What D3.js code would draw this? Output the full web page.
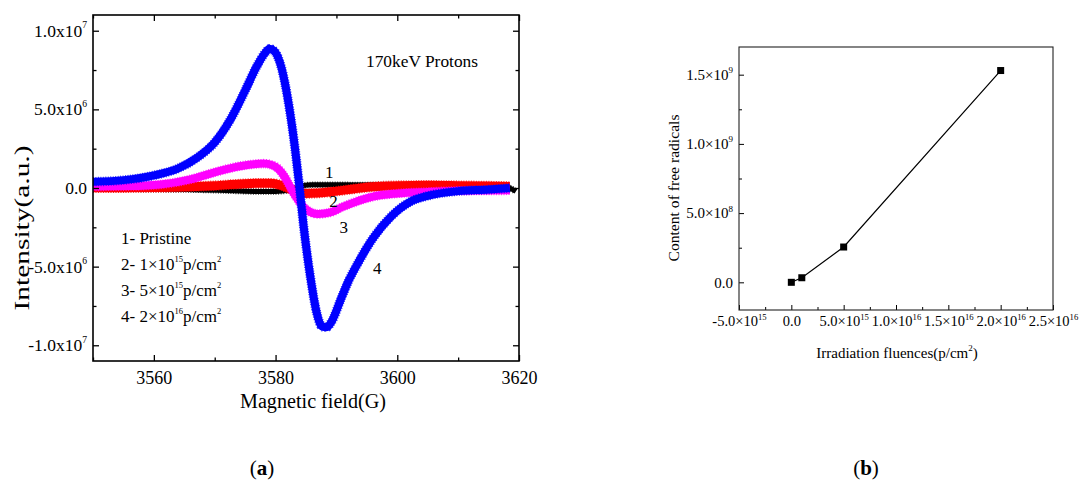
<!DOCTYPE html>
<html><head><meta charset="utf-8">
<script src="https://cdn.jsdelivr.net/npm/d3@7"></script>
<style>
html,body{margin:0;padding:0;background:#fff;}
svg{display:block;}
svg text, svg tspan{font-family:"Liberation Serif","Times New Roman",serif;fill:#000;}
</style></head>
<body><svg id="c" width="1080" height="484" font-family="Liberation Serif"></svg>
<script>
// ---------- Data: panel (a) EPR spectra (intensity in units of 1e6) ----------
const blackField = [3550, 3560, 3568, 3573, 3577, 3580, 3582, 3583.5, 3584.5, 3586, 3590, 3600, 3610, 3617, 3618.5, 3619.5];
const blackIntensity = [-0.05, -0.08, -0.12, -0.18, -0.22, -0.22, -0.15, 0.00, 0.15, 0.20, 0.20, 0.18, 0.15, 0.12, 0.0, -0.22];

const redField = [3550, 3560, 3566, 3570, 3574, 3577, 3579, 3580.5, 3582, 3583.5, 3585, 3587, 3590, 3593, 3596, 3600, 3605, 3610, 3618.5];
const redIntensity = [0.02, 0.03, 0.08, 0.15, 0.25, 0.30, 0.30, 0.22, 0.00, -0.25, -0.35, -0.32, -0.20, -0.05, 0.08, 0.15, 0.17, 0.15, 0.10];

const magentaField = [3550, 3556, 3561, 3566, 3570, 3573, 3576, 3578, 3579.5, 3580.5, 3581.5, 3582.5, 3583.5, 3585, 3587, 3589, 3591, 3593, 3596, 3600, 3605, 3610, 3618.5];
const magentaIntensity = [0.10, 0.12, 0.22, 0.55, 1.00, 1.30, 1.50, 1.55, 1.45, 1.20, 0.70, 0.00, -0.65, -1.35, -1.65, -1.55, -1.20, -0.90, -0.55, -0.35, -0.25, -0.18, -0.15];

const blueField = [3550, 3555, 3560, 3564, 3567, 3570, 3572.5, 3575, 3577, 3578.3, 3579, 3579.8, 3581, 3582, 3583, 3583.8, 3584.6, 3585.7, 3586.8, 3587.6, 3588.4, 3589.2, 3590.7, 3592, 3593.5, 3596, 3599, 3602, 3605, 3610, 3615, 3618.5];
const blueIntensity = [0.40, 0.50, 0.80, 1.25, 1.90, 2.90, 4.30, 6.20, 7.80, 8.60, 8.85, 8.70, 7.60, 5.70, 3.10, 0.50, -2.40, -5.60, -8.00, -8.80, -8.85, -8.50, -7.10, -5.90, -4.80, -3.20, -1.80, -0.90, -0.50, -0.20, -0.10, 0.00];

const leftXTicks = [3560, 3580, 3600, 3620];
const leftXLabels = ["3560", "3580", "3600", "3620"];
const leftXMinor = [3550, 3570, 3590, 3610];
const leftYTicks = [-1e7, -5e6, 0, 5e6, 1e7];
const leftYLabels = ["-1.0x10^{7}", "-5.0x10^{6}", "0.0", "5.0x10^{6}", "1.0x10^{7}"];
const leftYMinor = [-7.5e6, -2.5e6, 2.5e6, 7.5e6];

const curveLabels = ["1", "2", "3", "4"];
const legendLines = ["1- Pristine", "2- 1×10^{15}p/cm^{2}", "3- 5×10^{15}p/cm^{2}", "4- 2×10^{16}p/cm^{2}"];

// ---------- Data: panel (b) ----------
const fluence = [0, 1e15, 5e15, 2e16];
const radicals = [0, 3.3e7, 2.55e8, 1.53e9];
const rightXTicks = [-5e15, 0, 5e15, 1e16, 1.5e16, 2e16, 2.5e16];
const rightXLabels = ["-5.0×10^{15}", "0.0", "5.0×10^{15}", "1.0×10^{16}", "1.5×10^{16}", "2.0×10^{16}", "2.5×10^{16}"];
const rightXMinor = [-2.5e15, 2.5e15, 7.5e15, 1.25e16, 1.75e16, 2.25e16];
const rightYTicks = [0, 5e8, 1e9, 1.5e9];
const rightYLabels = ["0.0", "5.0×10^{8}", "1.0×10^{9}", "1.5×10^{9}"];
const rightYMinor = [2.5e8, 7.5e8, 1.25e9];

const SERIF = "Liberation Serif";

// ---------- helpers ----------
function rich(sel, str, fs, supScale, supRaise) {
  supScale = supScale || 0.58;
  supRaise = supRaise || 0.45;
  const parts = str.split(/\^\{([^}]*)\}/);
  sel.text(null);
  let raised = 0;
  parts.forEach((p, i) => {
    if (i % 2 === 0) {
      if (p === "") return;
      const t = sel.append("tspan").text(p);
      if (raised) { t.attr("dy", raised); raised = 0; }
    } else {
      const r = fs * supRaise;
      sel.append("tspan").attr("font-size", fs * supScale).attr("dy", -r).text(p);
      raised = r;
    }
  });
}

const svg = d3.select("#c");

// ================= Panel (a) =================
const xL = d3.scaleLinear().domain([3550, 3620]).range([93, 519]);
const yL = d3.scaleLinear().domain([-1.1e7, 1.1e7]).range([361, 15]);
const gA = svg.append("g");

gA.append("clipPath").attr("id", "clipA").append("rect")
  .attr("x", 93).attr("y", 15).attr("width", 426).attr("height", 346);

const plotA = gA.append("g").attr("clip-path", "url(#clipA)");
const series = [
  {f: blackField, v: blackIntensity, c: "#000000", w: 5},
  {f: redField, v: redIntensity, c: "#ff0000", w: 9},
  {f: magentaField, v: magentaIntensity, c: "#ff00ff", w: 8},
  {f: blueField, v: blueIntensity, c: "#0000ff", w: 8}
];
series.forEach(s => {
  const pts = s.f.map((f, i) => [f, s.v[i] * 1e6]);
  const line = d3.line().x(d => xL(d[0])).y(d => yL(d[1])).curve(d3.curveMonotoneX);
  plotA.append("path").attr("d", line(pts)).attr("fill", "none")
    .attr("stroke", s.c).attr("stroke-width", s.w).attr("stroke-linejoin", "round");
  // jagged marker-like fringe
  plotA.append("path").attr("d", line(pts)).attr("fill", "none")
    .attr("stroke", s.c).attr("stroke-width", s.w + 1.5).attr("stroke-dasharray", "1,1.5").attr("opacity", 0.8);
});

// axes (a)
const axB = d3.axisBottom(xL).tickValues(leftXTicks).tickSize(-6).tickPadding(10).tickFormat((d, i) => leftXLabels[i]);
const gxb = gA.append("g").attr("transform", "translate(0,361)").call(axB);
gxb.attr("font-family", SERIF).attr("font-size", 18);
gA.append("g").attr("transform", "translate(0,361)").call(d3.axisBottom(xL).tickValues(leftXMinor).tickSize(-3.5).tickFormat(""));
gA.append("g").attr("transform", "translate(0,15)").call(d3.axisTop(xL).tickValues(leftXTicks).tickSize(-6).tickFormat(""));
gA.append("g").attr("transform", "translate(0,15)").call(d3.axisTop(xL).tickValues(leftXMinor).tickSize(-3.5).tickFormat(""));

const axLft = d3.axisLeft(yL).tickValues(leftYTicks).tickSize(-6).tickPadding(6).tickFormat((d, i) => leftYLabels[i]);
const gyl = gA.append("g").attr("transform", "translate(93,0)").call(axLft);
gyl.attr("font-family", SERIF).attr("font-size", 17.5);
gyl.selectAll("text").each(function(d, i) { rich(d3.select(this), leftYLabels[i], 17.5, 0.55, 0.5); });
gA.append("g").attr("transform", "translate(93,0)").call(d3.axisLeft(yL).tickValues(leftYMinor).tickSize(-3.5).tickFormat(""));
gA.append("g").attr("transform", "translate(519,0)").call(d3.axisRight(yL).tickValues(leftYTicks).tickSize(-6).tickFormat(""));
gA.append("g").attr("transform", "translate(519,0)").call(d3.axisRight(yL).tickValues(leftYMinor).tickSize(-3.5).tickFormat(""));
gA.selectAll(".domain").remove();
gA.selectAll(".tick line").attr("stroke", "#000").attr("stroke-width", 1.3);
gA.append("rect").attr("x", 93).attr("y", 15).attr("width", 426).attr("height", 346)
  .attr("fill", "none").attr("stroke", "#000").attr("stroke-width", 1.6);

// labels (a)
gA.append("text").attr("x", 313).attr("y", 408).attr("text-anchor", "middle").attr("font-size", 20)
  .attr("textLength", 146).attr("lengthAdjust", "spacingAndGlyphs").text("Magnetic field(G)");
gA.append("text").attr("transform", "translate(29,228) rotate(-90)").attr("text-anchor", "middle").attr("font-size", 22)
  .attr("textLength", 165).attr("lengthAdjust", "spacingAndGlyphs").text("Intensity(a.u.)");
gA.append("text").attr("x", 366).attr("y", 67).attr("font-size", 17)
  .attr("textLength", 112).attr("lengthAdjust", "spacingAndGlyphs").text("170keV Protons");

const curveLabelPos = [[3588.8, 1.0e6], [3589.5, -0.86e6], [3591.2, -2.46e6], [3596.7, -5.08e6]];
curveLabels.forEach((t, i) => {
  gA.append("text").attr("x", xL(curveLabelPos[i][0])).attr("y", yL(curveLabelPos[i][1])).attr("dy", "0.35em")
    .attr("text-anchor", "middle").attr("font-size", 17).text(t);
});
legendLines.forEach((t, i) => {
  const tx = gA.append("text").attr("x", 121).attr("y", 244 + i * 26).attr("font-size", 17);
  rich(tx, t, 17, 0.5, 0.5);
});

svg.append("text").attr("x", 262).attr("y", 475).attr("text-anchor", "middle").attr("font-size", 21)
  .call(t => { t.append("tspan").text("("); t.append("tspan").attr("font-weight", "bold").text("a"); t.append("tspan").text(")"); });

// ================= Panel (b) =================
const xR = d3.scaleLinear().domain([-5e15, 2.5e16]).range([739, 1053]);
const yR = d3.scaleLinear().domain([-2e8, 1.7e9]).range([310, 47]);
const gB = svg.append("g");

const axBR = d3.axisBottom(xR).tickValues(rightXTicks).tickSize(-5).tickPadding(6).tickFormat((d, i) => rightXLabels[i]);
const gxr = gB.append("g").attr("transform", "translate(0,310)").call(axBR);
gxr.attr("font-family", SERIF).attr("font-size", 14.5);
gxr.selectAll("text").each(function(d, i) { rich(d3.select(this), rightXLabels[i], 14.5, 0.6, 0.45); });
gB.append("g").attr("transform", "translate(0,310)").call(d3.axisBottom(xR).tickValues(rightXMinor).tickSize(-3).tickFormat(""));

const axLR = d3.axisLeft(yR).tickValues(rightYTicks).tickSize(-5).tickPadding(6).tickFormat((d, i) => rightYLabels[i]);
const gyr = gB.append("g").attr("transform", "translate(739,0)").call(axLR);
gyr.attr("font-family", SERIF).attr("font-size", 15);
gyr.selectAll("text").each(function(d, i) { rich(d3.select(this), rightYLabels[i], 15, 0.6, 0.45); });
gB.append("g").attr("transform", "translate(739,0)").call(d3.axisLeft(yR).tickValues(rightYMinor).tickSize(-3).tickFormat(""));
gB.selectAll(".domain").remove();
gB.selectAll(".tick line").attr("stroke", "#000").attr("stroke-width", 1);
gB.append("rect").attr("x", 739).attr("y", 47).attr("width", 314).attr("height", 263)
  .attr("fill", "none").attr("stroke", "#222").attr("stroke-width", 1.1);

const lineR = d3.line().x((d, i) => xR(fluence[i])).y((d, i) => yR(radicals[i]));
gB.append("path").attr("d", lineR(radicals)).attr("fill", "none").attr("stroke", "#000").attr("stroke-width", 1.2);
gB.selectAll("rect.pt").data(radicals).enter().append("rect").attr("class", "pt")
  .attr("x", (d, i) => xR(fluence[i]) - 3.5).attr("y", d => yR(d) - 3.5)
  .attr("width", 7).attr("height", 7).attr("fill", "#000");

gB.append("text").attr("x", 897).attr("y", 358).attr("text-anchor", "middle").attr("font-size", 15)
  .call(t => rich(t, "Irradiation fluences(p/cm^{2})", 15, 0.6, 0.45));
gB.append("text").attr("transform", "translate(679,188) rotate(-90)").attr("text-anchor", "middle").attr("font-size", 15)
  .attr("textLength", 147).attr("lengthAdjust", "spacingAndGlyphs").text("Content of free radicals");

svg.append("text").attr("x", 866).attr("y", 475).attr("text-anchor", "middle").attr("font-size", 21)
  .call(t => { t.append("tspan").text("("); t.append("tspan").attr("font-weight", "bold").text("b"); t.append("tspan").text(")"); });
</script></body></html>
